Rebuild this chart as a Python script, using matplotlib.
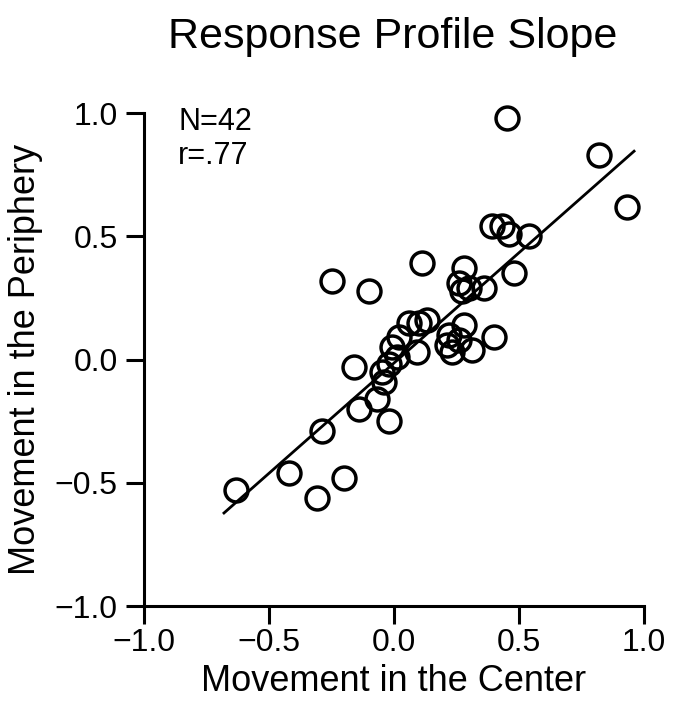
import numpy as np
import matplotlib.pyplot as plt

plt.rcParams['font.family'] = ['Liberation Sans', 'DejaVu Sans']

# movement in the center (x) vs movement in the periphery (y)
center = [0.45, 0.82, 0.93, 0.39, 0.43, 0.46, 0.54, 0.48, 0.11, -0.25,
          -0.10, 0.28, 0.26, 0.27, 0.30, 0.36, 0.06, 0.10, 0.13, 0.28,
          0.22, 0.21, 0.23, 0.26, 0.31, 0.40, 0.02, 0.09, -0.01, 0.01,
          -0.02, -0.05, -0.04, -0.16, -0.14, -0.07, -0.02, -0.29, -0.63, -0.42,
          -0.31, -0.20]
periphery = [0.98, 0.83, 0.62, 0.54, 0.54, 0.51, 0.50, 0.35, 0.39, 0.32,
             0.28, 0.37, 0.31, 0.28, 0.29, 0.29, 0.15, 0.15, 0.16, 0.14,
             0.10, 0.06, 0.03, 0.08, 0.04, 0.09, 0.09, 0.03, 0.05, 0.01,
             -0.02, -0.05, -0.09, -0.03, -0.20, -0.16, -0.25, -0.29, -0.53, -0.46,
             -0.56, -0.48]

# regression line as drawn
fit_slope = 0.895
fit_intercept = -0.014
fit_range = [-0.68, 0.96]

ticks = [-1.0, -0.5, 0.0, 0.5, 1.0]
tick_labels = ['\u22121.0', '\u22120.5', '0.0', '0.5', '1.0']

fig = plt.figure(figsize=(6.74, 7.2), dpi=100)
ax = fig.add_axes([0.2136, 0.1583, 0.742, 0.6847])

ax.plot(center, periphery, 'o', mfc='none', mec='black', ms=16.5, mew=2.5,
        linestyle='none', zorder=3, clip_on=False)
fx = np.array(fit_range)
ax.plot(fx, fit_slope * fx + fit_intercept, color='black', lw=2, zorder=2)

ax.set_xlim(-1, 1)
ax.set_ylim(-1, 1)
ax.set_xticks(ticks)
ax.set_xticklabels(tick_labels)
ax.set_yticks(ticks)
ax.set_yticklabels(tick_labels)
for s in ['top', 'right']:
    ax.spines[s].set_visible(False)
for s in ['left', 'bottom']:
    ax.spines[s].set_linewidth(2.2)
ax.tick_params(direction='out', length=13, width=2.2, labelsize=23)
ax.tick_params(axis='x', pad=3)
ax.tick_params(axis='y', pad=6)

ax.set_xlabel('Movement in the Center', fontsize=26, labelpad=4)
ax.set_ylabel('Movement in the Periphery', fontsize=26, labelpad=8)
fig.text(0.583, 0.949, 'Response Profile Slope', fontsize=31,
         ha='center', va='center')

ax.text(-0.863, 0.93, 'N=42', fontsize=22, va='baseline', ha='left')
ax.text(-0.863, 0.795, 'r=.77', fontsize=22, va='baseline', ha='left')

fig.savefig('out.png', dpi=100)
